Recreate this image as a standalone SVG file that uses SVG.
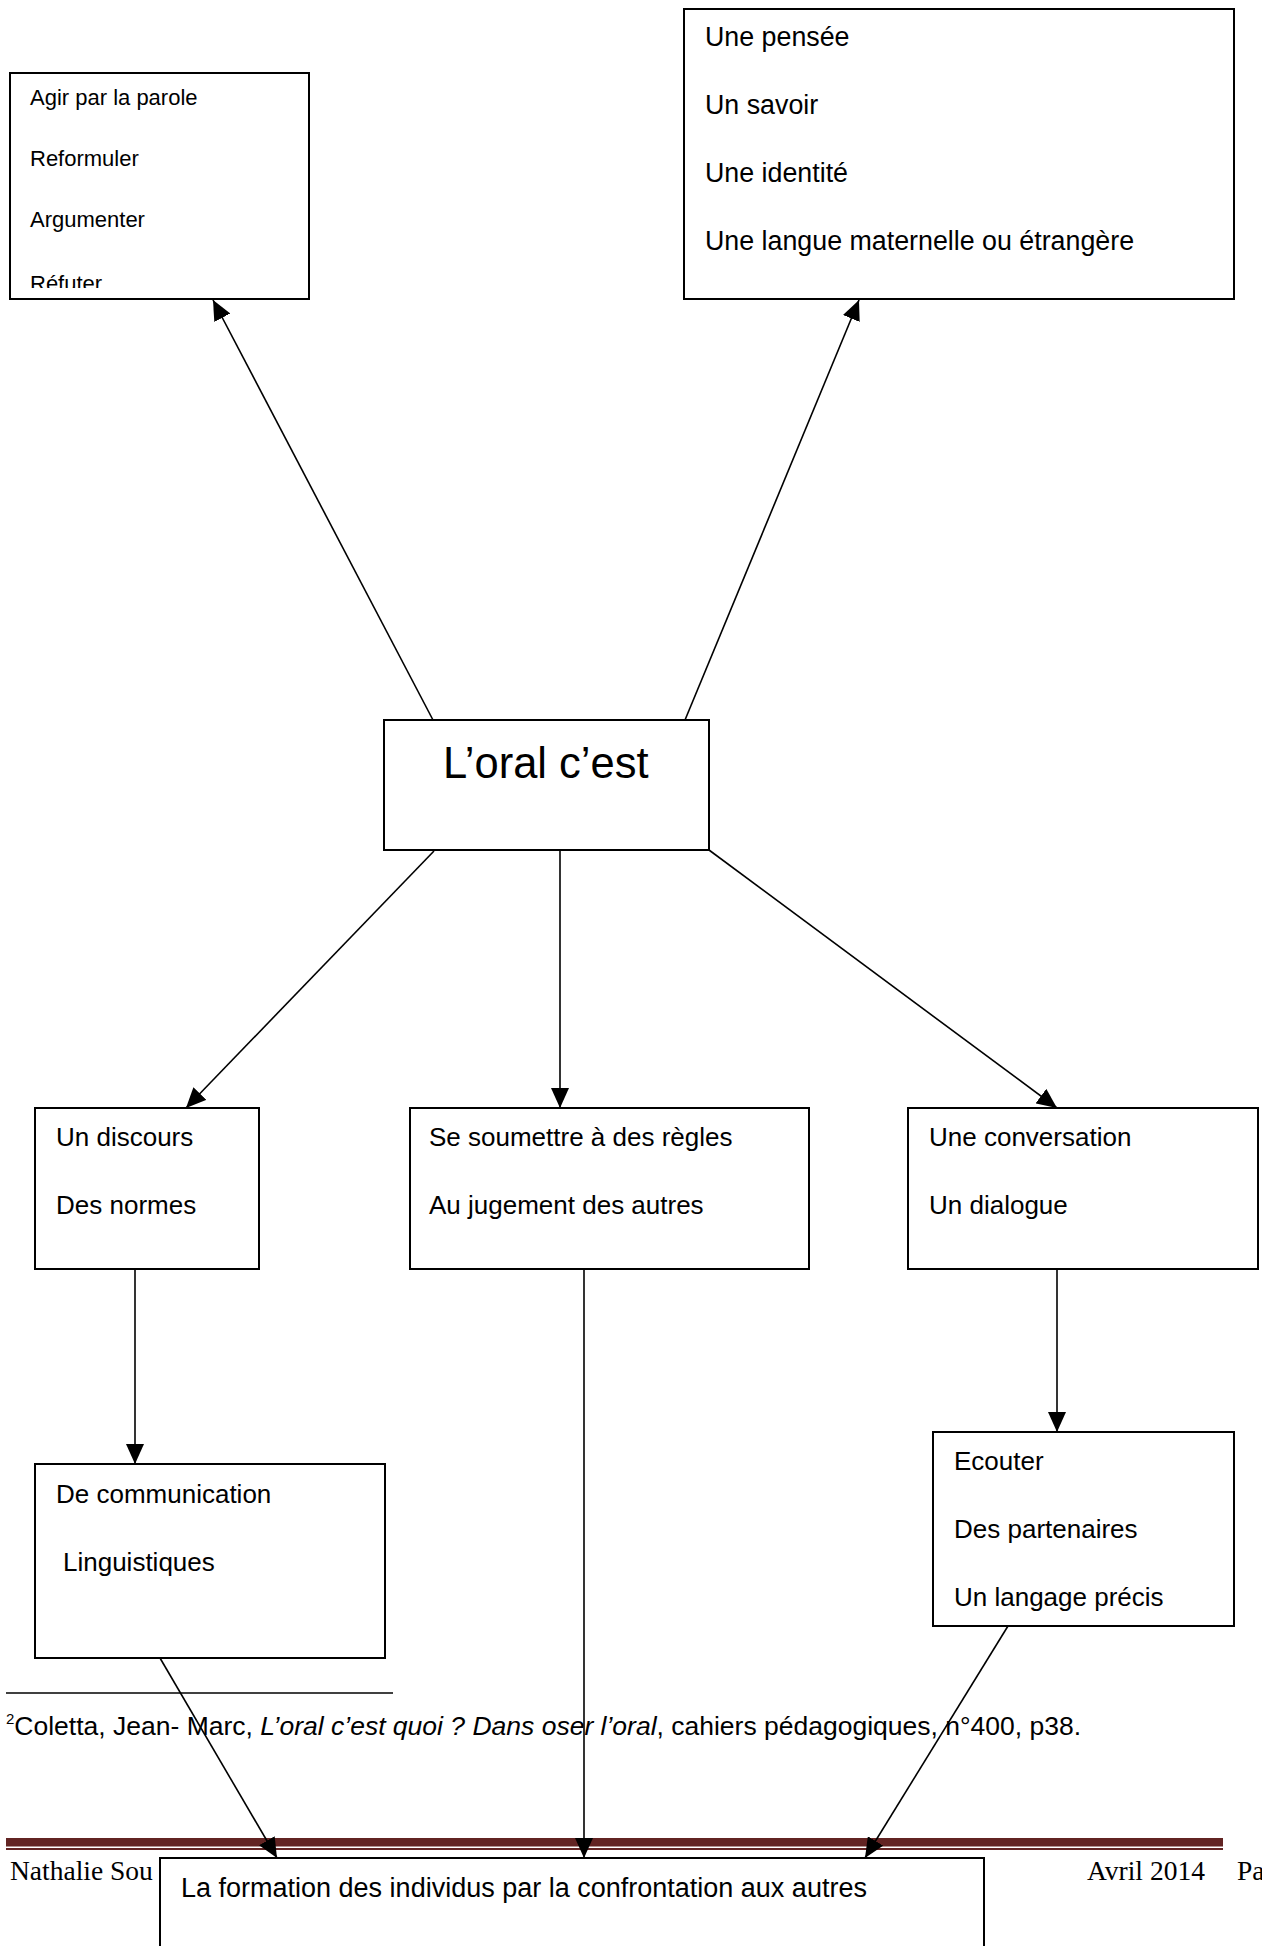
<svg xmlns="http://www.w3.org/2000/svg" width="1262" height="1946" viewBox="0 0 1262 1946">
<style>
.box{fill:#fff;stroke:#000;stroke-width:2}
.t{font-family:"Liberation Sans",Arial,sans-serif;font-size:26px;fill:#000}
.ts{font-size:22px}
.tr{font-size:26.8px}
.big{font-size:43.5px}
.tb{font-size:27px}
.foot{font-family:"Liberation Serif","Times New Roman",serif;font-size:27.5px;fill:#000}
.note{font-family:"Liberation Sans",Arial,sans-serif;font-size:26.5px;fill:#000}
.c{stroke:#000;stroke-width:1.6;fill:none;marker-end:url(#ah)}
</style>
<defs>
<marker id="ah" markerWidth="20" markerHeight="18" refX="20" refY="9" orient="auto" markerUnits="userSpaceOnUse">
<path d="M0,0 L20,9 L0,18 Z" fill="#000"/>
</marker>
<clipPath id="clipTL"><rect x="10" y="73" width="299" height="215"/></clipPath>
</defs>
<rect width="1262" height="1946" fill="#fff"/>

<g id="footnote">
<line x1="6" y1="1693" x2="393" y2="1693" stroke="#000" stroke-width="1.6"/>
<text class="note" x="6" y="1735"><tspan font-size="15" dy="-11">2</tspan><tspan dy="11">Coletta, Jean- Marc, </tspan><tspan font-style="italic">L’oral c’est quoi ? Dans oser l’oral</tspan>, cahiers pédagogiques, n°400, p38.</text>
</g>

<g id="footer">
<rect x="6" y="1838" width="1217" height="8.5" fill="#622423"/>
<rect x="6" y="1848" width="1217" height="2" fill="#622423"/>
<text class="foot" x="10" y="1880">Nathalie Sou</text>
<text class="foot" x="1087" y="1880">Avril 2014</text>
<text class="foot" x="1237" y="1880">Pa</text>
</g>

<g id="n-actions">
<rect class="box" x="10" y="73" width="299" height="226"/>
<g clip-path="url(#clipTL)">
<text class="t ts" x="30" y="105">Agir par la parole</text>
<text class="t ts" x="30" y="166">Reformuler</text>
<text class="t ts" x="30" y="227">Argumenter</text>
<text class="t ts" x="30" y="291">Réfuter</text>
</g>
</g>

<g id="n-pensee">
<rect class="box" x="684" y="9" width="550" height="290"/>
<text class="t tr" x="705" y="46">Une pensée</text>
<text class="t tr" x="705" y="114">Un savoir</text>
<text class="t tr" x="705" y="182">Une identité</text>
<text class="t tr" x="705" y="250">Une langue maternelle ou étrangère</text>
</g>

<g id="n-oral">
<rect class="box" x="384" y="720" width="325" height="130"/>
<text class="t big" x="443" y="778">L’oral c’est</text>
</g>

<g id="n-discours">
<rect class="box" x="35" y="1108" width="224" height="161"/>
<text class="t" x="56" y="1146">Un discours</text>
<text class="t" x="56" y="1214">Des normes</text>
</g>

<g id="n-regles">
<rect class="box" x="410" y="1108" width="399" height="161"/>
<text class="t" x="429" y="1146">Se soumettre à des règles</text>
<text class="t" x="429" y="1214">Au jugement des autres</text>
</g>

<g id="n-conversation">
<rect class="box" x="908" y="1108" width="350" height="161"/>
<text class="t" x="929" y="1146">Une conversation</text>
<text class="t" x="929" y="1214">Un dialogue</text>
</g>

<g id="n-communication">
<rect class="box" x="35" y="1464" width="350" height="194"/>
<text class="t" x="56" y="1503">De communication</text>
<text class="t" x="63" y="1571">Linguistiques</text>
</g>

<g id="n-ecouter">
<rect class="box" x="933" y="1432" width="301" height="194"/>
<text class="t" x="954" y="1470">Ecouter</text>
<text class="t" x="954" y="1538">Des partenaires</text>
<text class="t" x="954" y="1606">Un langage précis</text>
</g>

<g id="n-formation">
<rect class="box" x="160" y="1858" width="824" height="110"/>
<text class="t tb" x="181" y="1897">La formation des individus par la confrontation aux autres</text>
</g>

<g id="connectors">
<line class="c" x1="433" y1="720" x2="213" y2="300"/>
<line class="c" x1="685" y1="720" x2="859" y2="300"/>
<line class="c" x1="434" y1="851" x2="186" y2="1108"/>
<line class="c" x1="560" y1="851" x2="560" y2="1108"/>
<line class="c" x1="709" y1="850" x2="1057" y2="1108"/>
<line class="c" x1="135" y1="1269" x2="135" y2="1464"/>
<line class="c" x1="1057" y1="1269" x2="1057" y2="1432"/>
<line class="c" x1="160" y1="1658" x2="277" y2="1858"/>
<line class="c" x1="584" y1="1269" x2="584" y2="1858"/>
<line class="c" x1="1008" y1="1626" x2="865" y2="1858"/>
</g>
</svg>
